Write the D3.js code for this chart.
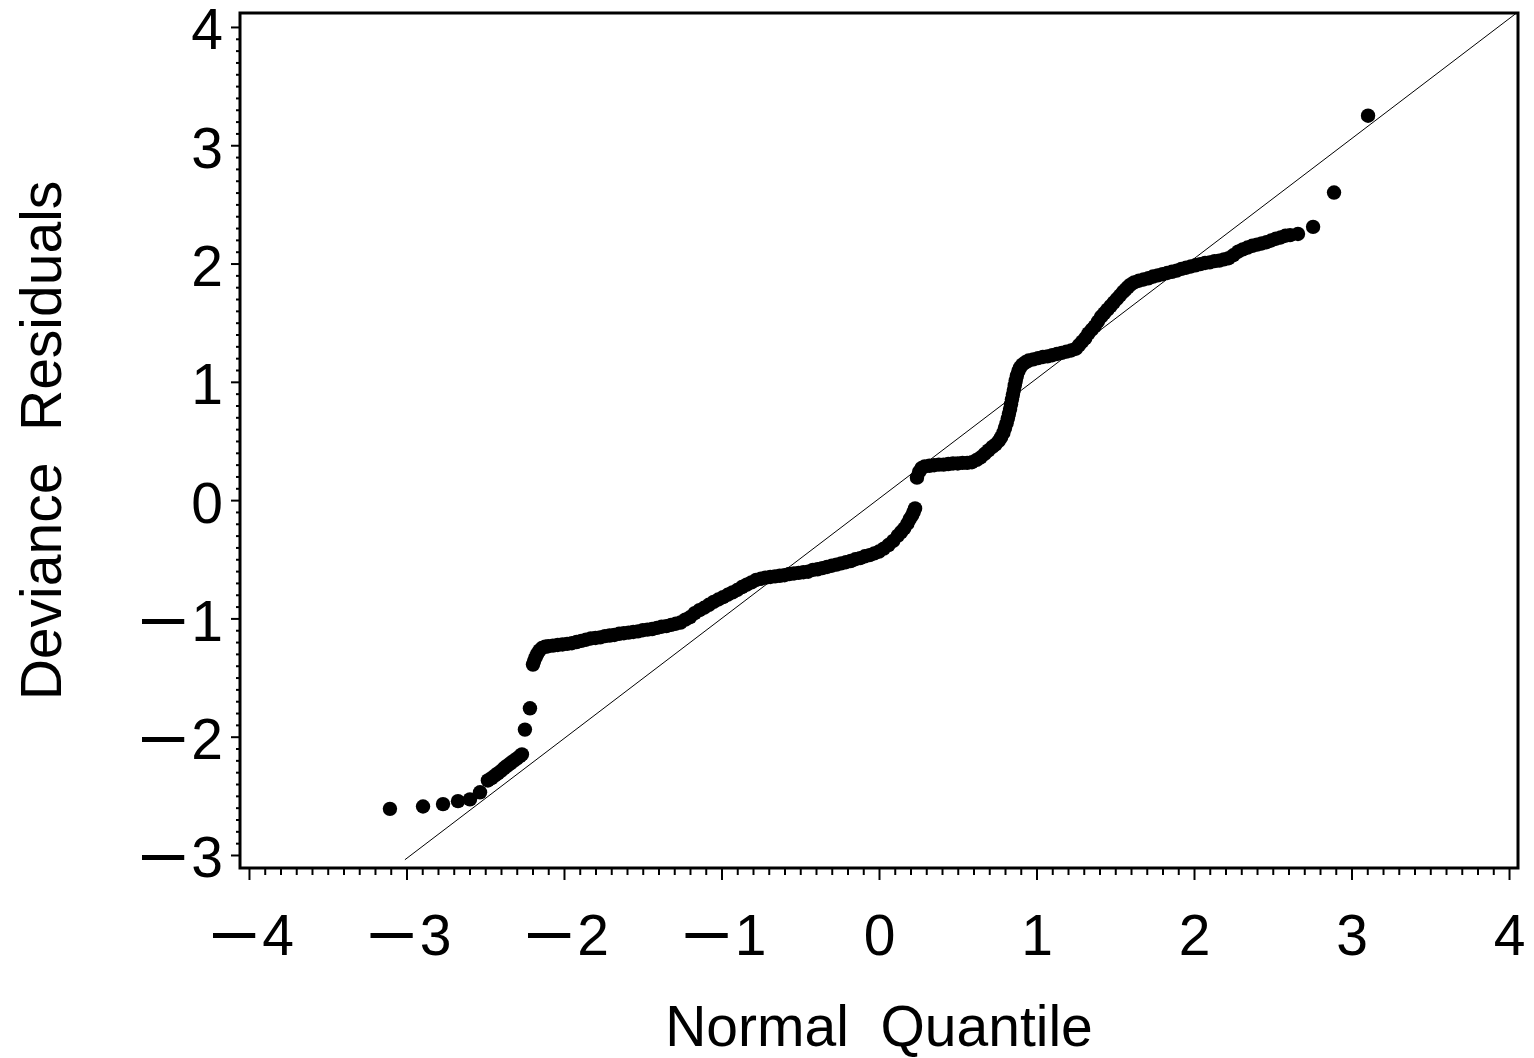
<!DOCTYPE html>
<html>
<head>
<meta charset="utf-8">
<script src="https://cdnjs.cloudflare.com/ajax/libs/d3/7.8.5/d3.min.js"></script>
<style>
    body { margin: 0; background: #fff; }
    svg { display: block; font-family: 'Liberation Sans', Arial, sans-serif; }
</style>
</head>
<body>
<svg id="chart"></svg>
<script>
// points, in order of rank
var normalQuantile = [
    -3.105, -2.895, -2.768, -2.673, -2.597, -2.533, -2.483, -2.46, -2.44, -2.42,
    -2.40, -2.38, -2.36, -2.34, -2.32, -2.30, -2.28, -2.267, -2.248, -2.216,
    -2.197, -2.19, -2.18, -2.17, -2.155, -2.14, -2.12, -2.10, -2.07, -2.04,
    -2.01, -1.98, -1.95, -1.92, -1.89, -1.86, -1.83, -1.80, -1.77, -1.74,
    -1.71, -1.68, -1.65, -1.62, -1.59, -1.56, -1.53, -1.50, -1.47, -1.44,
    -1.41, -1.38, -1.35, -1.32, -1.29, -1.26, -1.23, -1.20, -1.17, -1.14,
    -1.11, -1.08, -1.05, -1.02, -0.99, -0.96, -0.93, -0.90, -0.87, -0.84,
    -0.81, -0.78, -0.75, -0.72, -0.69, -0.66, -0.63, -0.60, -0.57, -0.54,
    -0.51, -0.48, -0.45, -0.42, -0.39, -0.36, -0.33, -0.30, -0.27, -0.24,
    -0.21, -0.18, -0.15, -0.12, -0.09, -0.06, -0.03, 0.00, 0.03, 0.06,
    0.09, 0.12, 0.14, 0.16, 0.18, 0.195, 0.21, 0.22, 0.229,
    0.241, 0.255, 0.27, 0.29, 0.32, 0.35, 0.38, 0.41, 0.44, 0.47,
    0.50, 0.53, 0.56, 0.59, 0.62, 0.645, 0.67, 0.695, 0.72, 0.74,
    0.76, 0.775, 0.79, 0.80, 0.81, 0.818, 0.825, 0.832, 0.838, 0.844,
    0.85, 0.856, 0.862, 0.868, 0.875, 0.885, 0.895, 0.91, 0.93, 0.95,
    0.98, 1.01, 1.04, 1.07, 1.10, 1.13, 1.16, 1.19, 1.22, 1.25,
    1.27, 1.29, 1.31, 1.33, 1.35, 1.37, 1.39, 1.41, 1.43, 1.45,
    1.47, 1.49, 1.51, 1.53, 1.55, 1.565, 1.58, 1.595, 1.62, 1.65,
    1.68, 1.71, 1.74, 1.77, 1.80, 1.83, 1.86, 1.89, 1.92, 1.95,
    1.98, 2.01, 2.04, 2.07, 2.10, 2.13, 2.16, 2.19, 2.22, 2.25,
    2.28, 2.31, 2.34, 2.37, 2.40, 2.43, 2.46, 2.49, 2.52, 2.55,
    2.58, 2.61, 2.66, 2.756, 2.889, 3.105
];
var devianceResidual = [
    -2.61, -2.59, -2.57, -2.545, -2.53, -2.47, -2.37, -2.35, -2.33, -2.31,
    -2.29, -2.265, -2.245, -2.225, -2.205, -2.185, -2.165, -2.15, -1.94, -1.76,
    -1.39, -1.36, -1.33, -1.30, -1.27, -1.25, -1.24, -1.235, -1.23, -1.225,
    -1.22, -1.215, -1.21, -1.20, -1.19, -1.18, -1.17, -1.165, -1.16, -1.15,
    -1.145, -1.14, -1.13, -1.125, -1.12, -1.115, -1.11, -1.10, -1.095, -1.09,
    -1.08, -1.07, -1.065, -1.055, -1.045, -1.035, -1.01, -0.99, -0.955, -0.93,
    -0.91, -0.885, -0.86, -0.84, -0.82, -0.80, -0.78, -0.76, -0.735, -0.715,
    -0.695, -0.675, -0.665, -0.655, -0.65, -0.645, -0.64, -0.635, -0.625, -0.62,
    -0.615, -0.61, -0.605, -0.59, -0.585, -0.575, -0.565, -0.555, -0.545, -0.535,
    -0.525, -0.515, -0.50, -0.49, -0.475, -0.465, -0.45, -0.435, -0.41, -0.38,
    -0.345, -0.30, -0.27, -0.24, -0.20, -0.16, -0.13, -0.10, -0.07,
    0.19, 0.24, 0.27, 0.285, 0.29, 0.295, 0.30, 0.30, 0.305, 0.31,
    0.31, 0.315, 0.315, 0.32, 0.34, 0.36, 0.39, 0.42, 0.45, 0.47,
    0.50, 0.53, 0.57, 0.61, 0.65, 0.69, 0.73, 0.77, 0.81, 0.85,
    0.89, 0.93, 0.97, 1.01, 1.05, 1.09, 1.12, 1.145, 1.165, 1.18,
    1.19, 1.20, 1.21, 1.215, 1.225, 1.235, 1.245, 1.255, 1.265, 1.28,
    1.31, 1.34, 1.37, 1.41, 1.44, 1.47, 1.51, 1.55, 1.58, 1.61,
    1.64, 1.67, 1.70, 1.73, 1.76, 1.78, 1.80, 1.82, 1.84, 1.855,
    1.865, 1.875, 1.89, 1.90, 1.91, 1.92, 1.93, 1.94, 1.955, 1.965,
    1.975, 1.985, 1.995, 2.005, 2.01, 2.02, 2.025, 2.035, 2.045, 2.07,
    2.10, 2.12, 2.135, 2.15, 2.16, 2.17, 2.18, 2.195, 2.21, 2.22,
    2.235, 2.24, 2.25, 2.31, 2.60, 3.25
];
var refLineX = [-3.01, 4.05];
var refLineY = [-3.04, 4.12];
var xTickValues = [-4, -3, -2, -1, 0, 1, 2, 3, 4];
var yTickValues = [-3, -2, -1, 0, 1, 2, 3, 4];
var xTitle = 'Normal  Quantile';
var yTitle = 'Deviance  Residuals';

function drawQQPlot(parameters) {
    var svg = d3.select(parameters.element),
        width = parameters.width,
        height = parameters.height,
        margin = parameters.margin,
        innerWidth = width - margin.left - margin.right,
        innerHeight = height - margin.top - margin.bottom,
        fontSize = 57;

    svg.attr('width', width).attr('height', height);

    var chart = svg.append('g')
        .attr('transform', 'translate(' + margin.left + ',' + margin.top + ')');

    var x = d3.scaleLinear().domain([-4.057, 4.057]).range([0, innerWidth]);
    var y = d3.scaleLinear().domain([-3.11, 4.118]).range([innerHeight, 0]);

    var xMinor = d3.range(-40, 41).filter(function (i) { return i % 10 !== 0; })
        .map(function (i) { return i / 10; });
    var yMinor = d3.range(-30, 41).filter(function (i) { return i % 10 !== 0; })
        .map(function (i) { return i / 10; });

    // long minus like the original, then the digits
    function signedLabels(g, shift) {
        g.selectAll('.tick text').each(function (d) {
            var t = d3.select(this).text('').attr('dy', null);
            if (d < 0) {
                t.attr('x', +t.attr('x') + shift);
                t.append('tspan').attr('class', 'minus').text('\u2013');
                t.append('tspan').attr('dx', 7).text(Math.abs(d));
            } else {
                t.text(d);
            }
        });
    }

    chart.append('g')
        .attr('transform', 'translate(0,' + innerHeight + ')')
        .call(d3.axisBottom(x).tickValues(xMinor).tickSize(7).tickFormat(''))
        .call(function (g) { g.select('.domain').remove(); });

    chart.append('g')
        .attr('transform', 'translate(0,' + innerHeight + ')')
        .call(d3.axisBottom(x).tickValues(xTickValues).tickSize(12))
        .call(function (g) { g.select('.domain').remove(); })
        .call(function (g) {
            g.selectAll('.tick text').attr('y', 87);
            signedLabels(g, 4);
        });

    chart.append('g')
        .call(d3.axisLeft(y).tickValues(yMinor).tickSize(4).tickFormat(''))
        .call(function (g) { g.select('.domain').remove(); });

    chart.append('g')
        .call(d3.axisLeft(y).tickValues(yTickValues).tickSize(9))
        .call(function (g) { g.select('.domain').remove(); })
        .call(function (g) {
            g.selectAll('.tick text').attr('x', -17).attr('y', 22);
            signedLabels(g, 0);
        });

    chart.selectAll('.tick line').attr('stroke', '#000').attr('stroke-width', 2);
    chart.selectAll('.tick text')
        .attr('fill', '#000')
        .style('font-size', fontSize + 'px')
        .style('font-family', "'Liberation Sans', Arial, sans-serif");
    chart.selectAll('.tick text .minus').style('font-size', '76px');

    chart.append('clipPath').attr('id', 'plotClip')
        .append('rect').attr('width', innerWidth).attr('height', innerHeight);

    chart.append('line')
        .attr('clip-path', 'url(#plotClip)')
        .attr('x1', x(refLineX[0])).attr('y1', y(refLineY[0]))
        .attr('x2', x(refLineX[1])).attr('y2', y(refLineY[1]))
        .attr('stroke', '#000')
        .attr('stroke-width', 1);

    chart.selectAll('.dot')
        .data(normalQuantile)
        .enter().append('circle')
        .attr('class', 'dot')
        .attr('cx', function (d) { return x(d); })
        .attr('cy', function (d, i) { return y(devianceResidual[i]); })
        .attr('r', 7.2)
        .attr('fill', '#000');

    chart.append('rect')
        .attr('width', innerWidth)
        .attr('height', innerHeight)
        .attr('fill', 'none')
        .attr('stroke', '#000')
        .attr('stroke-width', 3);

    svg.append('text')
        .attr('x', margin.left + innerWidth / 2)
        .attr('y', 1046)
        .style('text-anchor', 'middle')
        .style('font-size', fontSize + 'px')
        .style('white-space', 'pre')
        .text(xTitle);

    svg.append('text')
        .attr('transform', 'translate(61,' + (margin.top + innerHeight / 2) + ') rotate(-90)')
        .style('text-anchor', 'middle')
        .style('font-size', fontSize + 'px')
        .style('white-space', 'pre')
        .text(yTitle);
}

drawQQPlot({
    element: '#chart',
    width: 1534,
    height: 1058,
    margin: { top: 13, left: 240, right: 16, bottom: 190 }
});
</script>
</body>
</html>
